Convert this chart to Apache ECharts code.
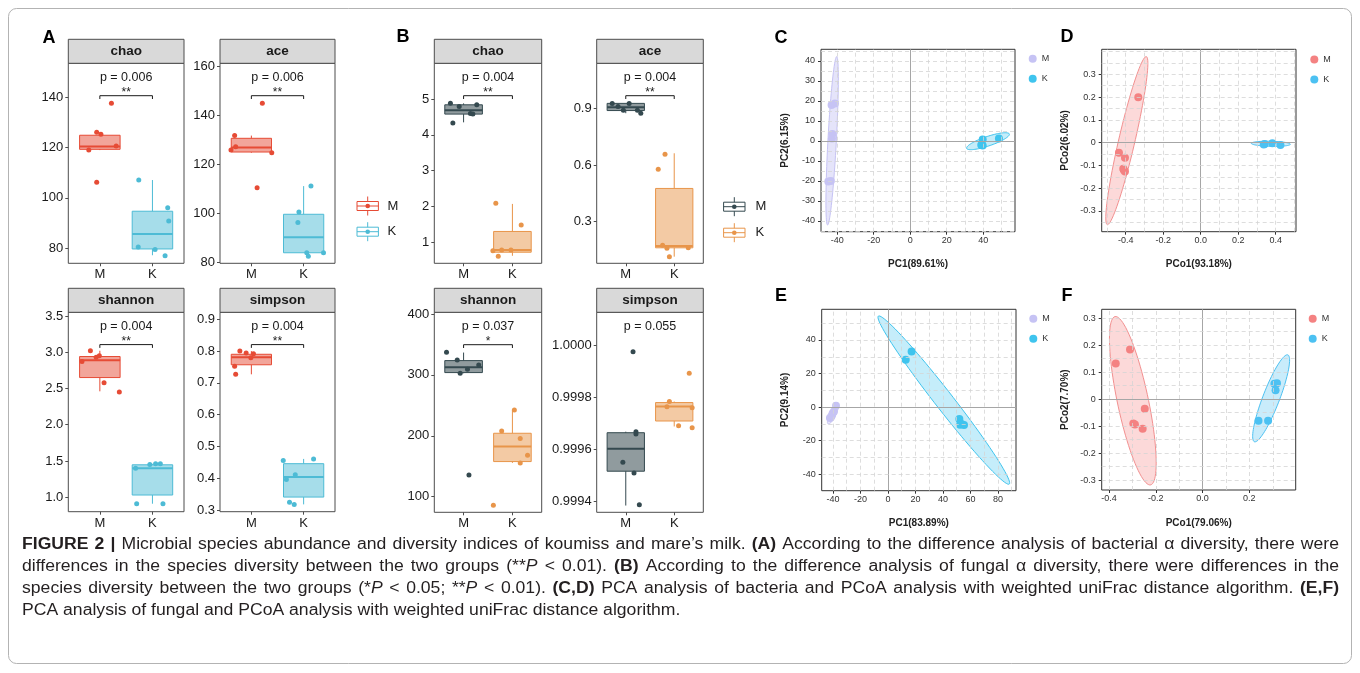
<!DOCTYPE html>
<html>
<head>
<meta charset="utf-8">
<title>Figure 2 - alpha diversity and PCA/PCoA</title>
<script src="https://cdn.jsdelivr.net/npm/echarts@6/dist/echarts.min.js"></script>
<style>
  html, body { margin: 0; padding: 0; background: #fff; }
  #chart { width: 1360px; height: 673px; }
</style>
</head>
<body>
<div id="chart"></div>
<script>
const groups = ['M', 'K'];

// ---- A: bacterial alpha diversity. box = [lower whisker, Q1, median, Q3, upper whisker]; points = [jittered x, value]
const aChaoBox = [[119.0, 119.3, 120.4, 124.9, 126.1], [77.2, 79.7, 85.6, 94.7, 107.1]];
const aChaoM = [[1.22, 137.6], [0.94, 126.1], [1.02, 125.3], [1.31, 120.6], [0.79, 119.0], [0.94, 106.2]];
const aChaoK = [[1.74, 107.1], [2.29, 96.1], [2.31, 90.8], [1.73, 80.5], [2.05, 79.5], [2.24, 77.0]];
const aChaoTicks = [80, 100, 120, 140];
const aChaoLabels = ['80', '100', '120', '140'];

const aAceBox = [[124.6, 124.9, 126.7, 130.5, 131.6], [83.8, 83.8, 90.1, 99.5, 111.0]];
const aAceM = [[1.21, 144.8], [0.68, 131.6], [0.70, 127.1], [0.61, 125.7], [1.39, 124.6], [1.11, 110.3]];
const aAceK = [[2.14, 111.0], [1.91, 100.4], [1.89, 96.1], [2.06, 83.8], [2.09, 82.4], [2.38, 83.8]];
const aAceTicks = [80, 100, 120, 140, 160];
const aAceLabels = ['80', '100', '120', '140', '160'];

const aShannonBox = [[2.46, 2.65, 2.89, 2.94, 3.02], [0.91, 1.03, 1.40, 1.447, 1.46]];
const aShannonM = [[0.82, 3.02], [0.66, 2.87], [0.93, 2.93], [0.99, 2.95], [1.08, 2.58], [1.37, 2.45]];
const aShannonK = [[1.68, 1.40], [1.95, 1.45], [2.06, 1.46], [2.15, 1.46], [1.70, 0.91], [2.20, 0.91]];
const aShannonTicks = [1.0, 1.5, 2.0, 2.5, 3.0, 3.5];
const aShannonLabels = ['1.0', '1.5', '2.0', '2.5', '3.0', '3.5'];

const aSimpsonBox = [[0.727, 0.757, 0.781, 0.790, 0.800], [0.318, 0.341, 0.404, 0.446, 0.461]];
const aSimpsonM = [[0.78, 0.800], [0.90, 0.794], [1.04, 0.792], [0.99, 0.779], [0.68, 0.752], [0.70, 0.727]];
const aSimpsonK = [[1.61, 0.456], [1.67, 0.396], [1.84, 0.411], [1.73, 0.325], [1.82, 0.318], [2.19, 0.461]];
const aSimpsonTicks = [0.3, 0.4, 0.5, 0.6, 0.7, 0.8, 0.9];
const aSimpsonLabels = ['0.3', '0.4', '0.5', '0.6', '0.7', '0.8', '0.9'];

// ---- B: fungal alpha diversity
const bChaoBox = [[4.35, 4.58, 4.69, 4.84, 4.88], [0.62, 0.72, 0.78, 1.30, 2.07]];
const bChaoM = [[0.73, 4.88], [0.91, 4.79], [1.27, 4.84], [1.14, 4.60], [1.19, 4.58], [0.78, 4.33]];
const bChaoK = [[1.66, 2.09], [2.18, 1.48], [1.60, 0.76], [1.78, 0.78], [1.97, 0.78], [1.71, 0.61]];
const bChaoTicks = [1, 2, 3, 4, 5];
const bChaoLabels = ['1', '2', '3', '4', '5'];

const bAceBox = [[0.874, 0.888, 0.905, 0.926, 0.926], [0.115, 0.162, 0.171, 0.476, 0.662]];
const bAceM = [[0.72, 0.925], [1.07, 0.925], [0.95, 0.889], [1.24, 0.889], [1.31, 0.874], [0.84, 0.910]];
const bAceK = [[1.81, 0.657], [1.67, 0.577], [1.76, 0.176], [1.85, 0.159], [2.29, 0.162], [1.90, 0.115]];
const bAceTicks = [0.3, 0.6, 0.9];
const bAceLabels = ['0.3', '0.6', '0.9'];

const bShannonBox = [[302.7, 303.8, 312.6, 323.5, 336.7], [155.5, 157.7, 182.3, 204.2, 242.5]];
const bShannonM = [[0.65, 337.2], [0.87, 324.6], [0.93, 302.7], [1.08, 309.3], [1.31, 316.4], [1.11, 135.8]];
const bShannonK = [[2.04, 242.5], [1.78, 208.0], [2.16, 195.5], [2.31, 168.1], [2.16, 155.5], [1.61, 86.0]];
const bShannonTicks = [100, 200, 300, 400];
const bShannonLabels = ['100', '200', '300', '400'];

const bSimpsonBox = [[0.999383, 0.999515, 0.999601, 0.999663, 0.999667], [0.999687, 0.999708, 0.999764, 0.999779, 0.999783]];
const bSimpsonM = [[1.15, 0.999974], [1.21, 0.999667], [1.21, 0.999658], [0.94, 0.999549], [1.17, 0.999508], [1.28, 0.999386]];
const bSimpsonK = [[2.31, 0.999892], [1.90, 0.999783], [1.85, 0.999763], [2.37, 0.999759], [2.09, 0.999690], [2.37, 0.999682]];
const bSimpsonTicks = [0.9994, 0.9996, 0.9998, 1.0];
const bSimpsonLabels = ['0.9994', '0.9996', '0.9998', '1.0000'];

// ---- C-F: ordination scores. ellipse = [centre x, centre y, half major axis dx, dy, minor/major ratio]
const cM = [[-43.1, 18.0], [-41.3, 18.8], [-42.7, 3.5], [-42.9, 1.3], [-44.9, -20.3], [-43.5, -20.0]];
const cK = [[39.7, 0.8], [39.7, -2.3], [38.9, -2.0], [48.6, 1.2]];
const cEllM = [-42.8, 0.1, 2.5, 42.1, 0.05];
const cEllK = [42.6, -0.1, 11.7, 3.6, 0.21];
const cXTicks = [-40, -20, 0, 20, 40];
const cXLabels = ['-40', '-20', '0', '20', '40'];
const cYTicks = [-40, -30, -20, -10, 0, 10, 20, 30, 40];
const cYLabels = ['-40', '-30', '-20', '-10', '0', '10', '20', '30', '40'];

const dM = [[-0.333, 0.199], [-0.436, -0.044], [-0.404, -0.066], [-0.413, -0.115], [-0.404, -0.127], [-0.410, -0.120]];
const dK = [[0.341, -0.006], [0.382, -0.003], [0.425, -0.010], [0.336, -0.008]];
const dEllM = [-0.394, 0.009, 0.104, 0.369, 0.094];
const dEllK = [0.374, -0.005, 0.104, -0.002, 0.13];
const dXTicks = [-0.4, -0.2, 0, 0.2, 0.4];
const dXLabels = ['-0.4', '-0.2', '0.0', '0.2', '0.4'];
const dYTicks = [-0.3, -0.2, -0.1, 0, 0.1, 0.2, 0.3];
const dYLabels = ['-0.3', '-0.2', '-0.1', '0', '0.1', '0.2', '0.3'];

const eM = [[-42.2, -6.5], [-40.2, -3.6], [-39.3, -2.6], [-37.8, 0.8], [-41.5, -6.0], [-40.8, -5.0]];
const eK = [[17.2, 33.1], [12.9, 28.2], [51.9, -7.1], [52.4, -10.5], [55.3, -10.7], [53.5, -10.0]];
const eEllM = [-40.0, -4.0, 3.5, 6.0, 0.27];
const eEllK = [40.6, 4.2, 47.6, -50.05, 0.085];
const eXTicks = [-40, -20, 0, 20, 40, 60, 80];
const eXLabels = ['-40', '-20', '0', '20', '40', '60', '80'];
const eYTicks = [-40, -20, 0, 20, 40];
const eYLabels = ['-40', '-20', '0', '20', '40'];

const fM = [[-0.371, 0.132], [-0.310, 0.184], [-0.247, -0.036], [-0.296, -0.090], [-0.289, -0.094], [-0.256, -0.110]];
const fK = [[0.307, 0.057], [0.318, 0.059], [0.312, 0.033], [0.239, -0.080], [0.280, -0.080]];
const fEllM = [-0.298, -0.006, -0.076, 0.312, 0.18];
const fEllK = [0.293, 0.003, 0.0715, 0.161, 0.18];
const fXTicks = [-0.4, -0.2, 0, 0.2];
const fXLabels = ['-0.4', '-0.2', '0.0', '0.2'];
const fYTicks = [-0.3, -0.2, -0.1, 0, 0.1, 0.2, 0.3];
const fYLabels = ['-0.3', '-0.2', '-0.1', '0', '0.1', '0.2', '0.3'];

const captionLines = [
  [['b', 'FIGURE 2 |'], ['n', ' Microbial species abundance and diversity indices of koumiss and mare\u2019s milk. '], ['b', '(A)'], ['n', ' According to the difference analysis of bacterial \u03b1 diversity, there were']],
  [['n', 'differences in the species diversity between the two groups (**'], ['i', 'P'], ['n', ' < 0.01). '], ['b', '(B)'], ['n', ' According to the difference analysis of fungal \u03b1 diversity, there were differences in the']],
  [['n', 'species diversity between the two groups (*'], ['i', 'P'], ['n', ' < 0.05; **'], ['i', 'P'], ['n', ' < 0.01). '], ['b', '(C,D)'], ['n', ' PCA analysis of bacteria and PCoA analysis with weighted uniFrac distance algorithm. '], ['b', '(E,F)']],
  [['n', 'PCA analysis of fungal and PCoA analysis with weighted uniFrac distance algorithm.']]
];

// ---------------------------------------------------------------
const FONT = "'Liberation Sans', Arial, Helvetica, sans-serif";
const INK = '#1a1a1a';

const palA = [{ line: '#E64B35', fill: 'rgba(230,75,53,0.5)' }, { line: '#4DBBD5', fill: 'rgba(77,187,213,0.5)' }];
const palB = [{ line: '#34494F', fill: 'rgba(52,73,79,0.55)' }, { line: '#E8954A', fill: 'rgba(232,149,74,0.5)' }];
const palCE = [{ pt: '#C6C3F4', line: '#C6C3F4', fill: 'rgba(198,195,244,0.45)' }, { pt: '#3FC4EE', line: '#3FC4EE', fill: 'rgba(63,196,238,0.3)' }];
const palDF = [{ pt: '#F48282', line: '#F29090', fill: 'rgba(244,130,130,0.3)' }, { pt: '#4CC1F2', line: '#4CC1F2', fill: 'rgba(76,193,242,0.3)' }];

const boxPanels = [
  { title: 'chao', rect: [68.3, 63.3, 115.7, 200], range: [74, 153.5], ticks: aChaoTicks, labels: aChaoLabels, box: aChaoBox, m: aChaoM, k: aChaoK, p: 'p = 0.006', star: '**', pal: palA },
  { title: 'ace', rect: [220, 63.3, 115, 200], range: [79.5, 161.1], ticks: aAceTicks, labels: aAceLabels, box: aAceBox, m: aAceM, k: aAceK, p: 'p = 0.006', star: '**', pal: palA },
  { title: 'shannon', rect: [68.3, 312.3, 115.7, 199.4], range: [0.80, 3.55], ticks: aShannonTicks, labels: aShannonLabels, box: aShannonBox, m: aShannonM, k: aShannonK, p: 'p = 0.004', star: '**', pal: palA },
  { title: 'simpson', rect: [220, 312.3, 115, 199.4], range: [0.295, 0.922], ticks: aSimpsonTicks, labels: aSimpsonLabels, box: aSimpsonBox, m: aSimpsonM, k: aSimpsonK, p: 'p = 0.004', star: '**', pal: palA },
  { title: 'chao', rect: [434.3, 63.3, 107.4, 200], range: [0.41, 6.0], ticks: bChaoTicks, labels: bChaoLabels, box: bChaoBox, m: bChaoM, k: bChaoK, p: 'p = 0.004', star: '**', pal: palB },
  { title: 'ace', rect: [596.7, 63.3, 106.6, 200], range: [0.08, 1.138], ticks: bAceTicks, labels: bAceLabels, box: bAceBox, m: bAceM, k: bAceK, p: 'p = 0.004', star: '**', pal: palB },
  { title: 'shannon', rect: [434.3, 312.3, 107.4, 200], range: [74.4, 402.8], ticks: bShannonTicks, labels: bShannonLabels, box: bShannonBox, m: bShannonM, k: bShannonK, p: 'p = 0.037', star: '*', pal: palB },
  { title: 'simpson', rect: [596.7, 312.3, 106.6, 200], range: [0.999357, 1.000126], ticks: bSimpsonTicks, labels: bSimpsonLabels, box: bSimpsonBox, m: bSimpsonM, k: bSimpsonK, p: 'p = 0.055', star: '', pal: palB }
];

const scatterPanels = [
  { rect: [821, 49.3, 194, 182.4], xr: [-48.9, 57.4], yr: [-45.35, 45.85], xt: cXTicks, xl: cXLabels, yt: cYTicks, yl: cYLabels, xName: 'PC1(89.61%)', yName: 'PC2(6.15%)', m: cM, k: cK, ell: [cEllM, cEllK], pal: palCE, legend: [1023.7, 49.3] },
  { rect: [1101.7, 49.3, 194.3, 182.4], xr: [-0.528, 0.508], yr: [-0.391, 0.41], xt: dXTicks, xl: dXLabels, yt: dYTicks, yl: dYLabels, xName: 'PCo1(93.18%)', yName: 'PCo2(6.02%)', m: dM, k: dK, ell: [dEllM, dEllK], pal: palDF, legend: [1305.3, 50] },
  { rect: [821.7, 309.3, 194.3, 181.4], xr: [-48.2, 93.1], yr: [-49.8, 58.3], xt: eXTicks, xl: eXLabels, yt: eYTicks, yl: eYLabels, xName: 'PC1(83.89%)', yName: 'PC2(9.14%)', m: eM, k: eK, ell: [eEllM, eEllK], pal: palCE, legend: [1024.3, 309.3] },
  { rect: [1101.7, 309.3, 194, 180.7], xr: [-0.431, 0.398], yr: [-0.337, 0.333], xt: fXTicks, xl: fXLabels, yt: fYTicks, yl: fYLabels, xName: 'PCo1(79.06%)', yName: 'PCo2(7.70%)', m: fM, k: fK, ell: [fEllM, fEllK], pal: palDF, legend: [1303.7, 309.3] }
];

function tickLabel(ticks, labels) {
  return v => {
    let best = 0;
    ticks.forEach((t, i) => { if (Math.abs(t - v) < Math.abs(ticks[best] - v)) best = i; });
    return labels[best];
  };
}

function boxItem(pal) {
  return (params, api) => {
    const x = api.value(0);
    const at = d => api.coord([x, api.value(d)]);
    const lo = at(1), q1 = at(2), md = at(3), q3 = at(4), hi = at(5);
    const w = api.size([0.77, 0])[0];
    const c = pal[params.dataIndex];
    return {
      type: 'group',
      children: [
        { type: 'line', shape: { x1: lo[0], y1: lo[1], x2: q1[0], y2: q1[1] }, style: { stroke: c.line, lineWidth: 1 } },
        { type: 'line', shape: { x1: q3[0], y1: q3[1], x2: hi[0], y2: hi[1] }, style: { stroke: c.line, lineWidth: 1 } },
        { type: 'rect', shape: { x: q1[0] - w / 2, y: q3[1], width: w, height: q1[1] - q3[1] }, style: { fill: c.fill, stroke: c.line, lineWidth: 1 } },
        { type: 'line', shape: { x1: md[0] - w / 2, y1: md[1], x2: md[0] + w / 2, y2: md[1] }, style: { stroke: c.line, lineWidth: 2 } }
      ]
    };
  };
}

function bracketItem(p) {
  return (params, api) => {
    const cs = params.coordSys;
    const xa = api.coord([1, p.range[0]])[0];
    const xb = api.coord([2, p.range[0]])[0];
    const yb = cs.y + cs.height * 0.162;
    const kids = [{
      type: 'text',
      style: { text: p.p, x: (xa + xb) / 2, y: cs.y + cs.height * 0.072, font: '12.5px ' + FONT, fill: INK, align: 'center', verticalAlign: 'middle' }
    }];
    if (p.star) {
      kids.push({ type: 'polyline', shape: { points: [[xa, yb + 3.3], [xa, yb], [xb, yb], [xb, yb + 3.3]] }, style: { stroke: INK, lineWidth: 1, fill: 'none' } });
      kids.push({ type: 'text', style: { text: p.star, x: (xa + xb) / 2, y: cs.y + cs.height * 0.145, font: '12px ' + FONT, fill: INK, align: 'center', verticalAlign: 'middle' } });
    }
    return { type: 'group', children: kids };
  };
}

function ellipseItem(pal) {
  return (params, api) => {
    const cx = api.value(0), cy = api.value(1);
    const c = api.coord([cx, cy]);
    const e = api.coord([cx + api.value(2), cy + api.value(3)]);
    const r = api.value(4);
    const ux = e[0] - c[0], uy = e[1] - c[1];
    const vx = -uy * r, vy = ux * r;
    const pts = [];
    for (let k = 0; k < 90; k++) {
      const t = k / 90 * Math.PI * 2;
      pts.push([c[0] + Math.cos(t) * ux + Math.sin(t) * vx, c[1] + Math.cos(t) * uy + Math.sin(t) * vy]);
    }
    const col = pal[params.dataIndex];
    return { type: 'polygon', shape: { points: pts }, style: { fill: col.fill, stroke: col.line, lineWidth: 1 } };
  };
}

// major + minor grid positions (every half step) inside the axis range
function gridValues(ticks, range) {
  const half = (ticks[1] - ticks[0]) / 2;
  const out = [];
  for (let k = Math.ceil(range[0] / half - 1e-9); k * half <= range[1] + 1e-9; k++) out.push(Math.round(k * half * 1e6) / 1e6);
  return out;
}

const grids = [], xAxes = [], yAxes = [], series = [], graphics = [], legends = [];

boxPanels.forEach(p => {
  const i = grids.length;
  const [gl, gt, gw, gh] = p.rect;
  grids.push({ left: gl, top: gt, width: gw, height: gh, show: true, borderColor: '#4d4d4d', borderWidth: 1, backgroundColor: '#fff' });
  xAxes.push({
    gridIndex: i, type: 'value', min: 0.4, max: 2.6,
    axisLine: { show: false, onZero: false }, splitLine: { show: false },
    axisTick: { show: true, customValues: [1, 2], length: 3, lineStyle: { color: '#4d4d4d' } },
    axisLabel: { customValues: [1, 2], formatter: v => groups[Math.round(v) - 1], fontSize: 13, color: INK, margin: 5 }
  });
  yAxes.push({
    gridIndex: i, type: 'value', min: p.range[0], max: p.range[1],
    axisLine: { show: false, onZero: false }, splitLine: { show: false },
    axisTick: { show: true, customValues: p.ticks, length: 3, lineStyle: { color: '#4d4d4d' } },
    axisLabel: { customValues: p.ticks, formatter: tickLabel(p.ticks, p.labels), fontSize: 13, color: INK, margin: 5 }
  });
  series.push({
    type: 'custom', xAxisIndex: i, yAxisIndex: i, z: 2, silent: true,
    data: p.box.map((b, g) => [g + 1].concat(b)),
    encode: { x: 0, y: [1, 2, 3, 4, 5] },
    renderItem: boxItem(p.pal)
  });
  [p.m, p.k].forEach((pts, g) => series.push({
    type: 'scatter', xAxisIndex: i, yAxisIndex: i, z: 3, silent: true, symbolSize: 5,
    data: pts, itemStyle: { color: p.pal[g].line, opacity: 1 }
  }));
  series.push({ type: 'custom', xAxisIndex: i, yAxisIndex: i, z: 4, silent: true, data: [[1, p.range[0]]], renderItem: bracketItem(p) });

  graphics.push({ type: 'rect', shape: { x: gl, y: gt - 24, width: gw, height: 24 }, style: { fill: '#d9d9d9', stroke: '#4d4d4d', lineWidth: 1 } });
  graphics.push({ type: 'text', x: gl + gw / 2, y: gt - 12, style: { text: p.title, font: 'bold 13.5px ' + FONT, fill: INK, align: 'center', verticalAlign: 'middle' } });
});

const dashStyle = { color: '#d4d4d4', type: [4, 3], width: 0.8 };
const zeroStyle = { color: '#a6a6a6', type: 'solid', width: 1 };

scatterPanels.forEach(p => {
  const i = grids.length;
  const [gl, gt, gw, gh] = p.rect;
  grids.push({ left: gl, top: gt, width: gw, height: gh, show: true, borderColor: '#333', borderWidth: 1, backgroundColor: '#fff' });
  const nameStyle = { fontWeight: 'bold', fontSize: 10, color: '#222' };
  xAxes.push({
    gridIndex: i, type: 'value', min: p.xr[0], max: p.xr[1],
    name: p.xName, nameLocation: 'middle', nameGap: 28, nameTextStyle: nameStyle,
    axisLine: { show: false, onZero: false }, splitLine: { show: false },
    axisTick: { show: true, customValues: p.xt, length: 3, lineStyle: { color: '#333' } },
    axisLabel: { customValues: p.xt, formatter: tickLabel(p.xt, p.xl), fontSize: 9, color: '#333', margin: 4 }
  });
  yAxes.push({
    gridIndex: i, type: 'value', min: p.yr[0], max: p.yr[1],
    name: p.yName, nameLocation: 'middle', nameGap: 31, nameTextStyle: nameStyle,
    axisLine: { show: false, onZero: false }, splitLine: { show: false },
    axisTick: { show: true, customValues: p.yt, length: 3, lineStyle: { color: '#333' } },
    axisLabel: { customValues: p.yt, formatter: tickLabel(p.yt, p.yl), fontSize: 9, color: '#333', margin: 6 }
  });
  const lines = [];
  gridValues(p.xt, p.xr).forEach(v => lines.push({ xAxis: v, lineStyle: v === 0 ? zeroStyle : dashStyle }));
  gridValues(p.yt, p.yr).forEach(v => lines.push({ yAxis: v, lineStyle: v === 0 ? zeroStyle : dashStyle }));
  series.push({
    type: 'scatter', xAxisIndex: i, yAxisIndex: i, z: 1, silent: true, data: [],
    markLine: { silent: true, symbol: ['none', 'none'], label: { show: false }, animation: false, data: lines }
  });
  series.push({ type: 'custom', xAxisIndex: i, yAxisIndex: i, z: 2, silent: true, data: p.ell, encode: { x: 0, y: 1 }, renderItem: ellipseItem(p.pal) });
  [p.m, p.k].forEach((pts, g) => series.push({
    name: groups[g], type: 'scatter', xAxisIndex: i, yAxisIndex: i, z: 3, silent: true, symbolSize: 8,
    data: pts, itemStyle: { color: p.pal[g].pt, opacity: 1 }
  }));
  legends.push({
    left: p.legend[0], top: p.legend[1], orient: 'vertical', icon: 'circle', itemWidth: 8, itemHeight: 8, itemGap: 11,
    selectedMode: false, textStyle: { fontSize: 9, color: '#333' },
    data: groups.map((g, k) => ({ name: g, itemStyle: { color: p.pal[k].pt } }))
  });
});

// legends for the box plot blocks (boxplot glyph keys)
function boxKey(cx, cy, col, label, lx) {
  graphics.push({ type: 'line', shape: { x1: cx, y1: cy - 9.5, x2: cx, y2: cy + 9.5 }, style: { stroke: col.line, lineWidth: 1 } });
  graphics.push({ type: 'rect', shape: { x: cx - 10.7, y: cy - 4.5, width: 21.4, height: 9 }, style: { fill: '#fff', stroke: col.line, lineWidth: 1 } });
  graphics.push({ type: 'line', shape: { x1: cx - 10.7, y1: cy, x2: cx + 10.7, y2: cy }, style: { stroke: col.line, lineWidth: 1 } });
  graphics.push({ type: 'circle', shape: { cx: cx, cy: cy, r: 2.3 }, style: { fill: col.line } });
  graphics.push({ type: 'text', x: lx, y: cy, style: { text: label, font: '13px ' + FONT, fill: INK, verticalAlign: 'middle' } });
}
boxKey(367.7, 206, palA[0], groups[0], 387.5);
boxKey(367.7, 231.7, palA[1], groups[1], 387.5);
boxKey(734.3, 206.7, palB[0], groups[0], 755.5);
boxKey(734.3, 232.7, palB[1], groups[1], 755.5);

// panel letters
[['A', 49, 38], ['B', 403, 37], ['C', 781, 38], ['D', 1067, 37], ['E', 781, 296], ['F', 1067, 296]].forEach(([t, x, y]) => {
  graphics.push({ type: 'text', x: x, y: y, style: { text: t, font: 'bold 18px ' + FONT, fill: '#000', align: 'center', verticalAlign: 'middle' } });
});

// figure frame
graphics.push({ type: 'rect', shape: { x: 8.5, y: 8.5, width: 1343, height: 655, r: 8 }, style: { fill: 'none', stroke: '#b3b3b3', lineWidth: 1 } });

// caption, condensed and justified word by word
const CAP_FAMILY = "'Liberation Sans', Arial, sans-serif";
const mctx = document.createElement('canvas').getContext('2d');
const capFont = (st, fs) => (st === 'b' ? 'bold ' : st === 'i' ? 'italic ' : '') + fs + 'px ' + CAP_FAMILY;
const measure = (text, st, fs) => { mctx.font = capFont(st, fs); return mctx.measureText(text).width; };

function toWords(line) {
  const words = [];
  let cur = [];
  line.forEach(([st, txt]) => {
    txt.split(' ').forEach((part, k) => {
      if (k > 0 && cur.length) { words.push(cur); cur = []; }
      if (part) cur.push({ st: st, text: part });
    });
  });
  if (cur.length) words.push(cur);
  return words;
}

const capLeft = 22, capRight = 1339, capTop = 545, capStep = 22, capSize = 16;
const capWords = captionLines.map(toWords);
const wordW = (w) => w.reduce((a, pc) => a + measure(pc.text, pc.st, capSize), 0);
const spaceW = measure(' ', 'n', capSize);
const natural0 = capWords[0].reduce((a, w) => a + wordW(w), 0) + (capWords[0].length - 1) * spaceW;
const capScale = Math.min(1.1, 1296 / natural0);

capWords.forEach((words, li) => {
  const widths = words.map(w => wordW(w) * capScale);
  const total = widths.reduce((a, b) => a + b, 0);
  const justify = li < capWords.length - 1;
  const gap = justify ? (capRight - capLeft - total) / (words.length - 1) : spaceW * capScale;
  let x = capLeft;
  const y = capTop + li * capStep;
  words.forEach((w, wi) => {
    let px = x;
    w.forEach(pc => {
      graphics.push({ type: 'text', x: px, y: y, scaleX: capScale, style: { text: pc.text, font: capFont(pc.st, capSize), fill: '#231f20', verticalAlign: 'middle' } });
      px += measure(pc.text, pc.st, capSize) * capScale;
    });
    x += widths[wi] + gap;
  });
});

const chart = echarts.init(document.getElementById('chart'), null, { renderer: 'canvas' });
chart.setOption({
  animation: false,
  backgroundColor: '#fff',
  textStyle: { fontFamily: FONT },
  grid: grids,
  xAxis: xAxes,
  yAxis: yAxes,
  legend: legends,
  series: series,
  graphic: { elements: graphics }
});
</script>
</body>
</html>
